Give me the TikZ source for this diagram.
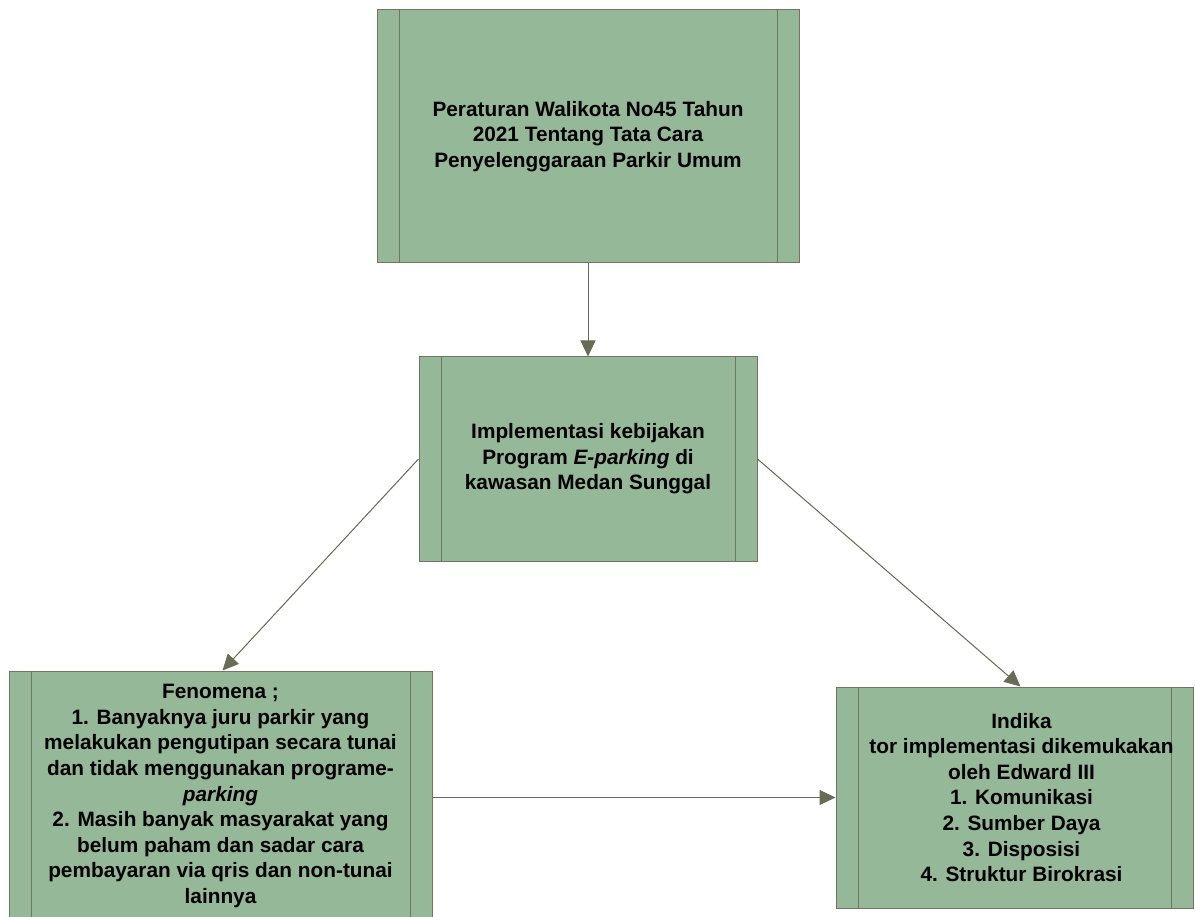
\documentclass[tikz,border=0pt]{standalone}
\usepackage{fontspec}
\setmainfont{Liberation Sans}
\usetikzlibrary{arrows.meta,calc}
\definecolor{boxfill}{RGB}{148,184,152}
\definecolor{boxline}{RGB}{112,116,96}
\definecolor{arrcol}{RGB}{104,108,84}
\tikzset{
  procbox/.style={draw=boxline, fill=boxfill, line width=1pt, inner sep=0pt,
    align=center, font=\bfseries\fontsize{20.8}{25.6}\selectfont,
    path picture={
      \draw[boxline, line width=1pt]
        ([xshift=22pt]path picture bounding box.north west) -- ([xshift=22pt]path picture bounding box.south west)
        ([xshift=-22pt]path picture bounding box.north east) -- ([xshift=-22pt]path picture bounding box.south east);
    }},
  arr/.style={draw=arrcol, line width=1pt, -{Triangle[length=16pt,width=15pt]}, fill=arrcol}
}
\begin{document}
\begin{tikzpicture}[x=1pt,y=-1pt]
\useasboundingbox (0,0) rectangle (1195,917);
\clip (0,0) rectangle (1195,917);
\node[procbox, minimum width=422pt, minimum height=253pt] (b1) at (588,136.5)
  {Peraturan Walikota No45 Tahun\\2021 Tentang Tata Cara\\ Penyelenggaraan Parkir Umum};
\node[procbox, minimum width=338pt, minimum height=204pt] (b2) at (588,459)
  {Implementasi kebijakan\\Program \textit{E-parking} di\\kawasan Medan Sunggal};
\node[procbox, minimum width=423pt, minimum height=250pt] (b3) at (220.5,796)
  {Fenomena ;\\1. Banyaknya juru parkir yang\\melakukan pengutipan secara tunai\\dan tidak menggunakan programe-\\\textit{parking}\\2. Masih banyak masyarakat yang\\belum paham dan sadar cara\\pembayaran via qris dan non-tunai\\lainnya};
\node[procbox, minimum width=357pt, minimum height=221pt] (b4) at (1014.5,797.5)
  {\hspace*{14pt}Indika\\\hspace*{14pt}tor implementasi dikemukakan\\\hspace*{14pt}oleh Edward III\\\hspace*{14pt}1. Komunikasi\\\hspace*{14pt}2. Sumber Daya\\\hspace*{14pt}3. Disposisi\\\hspace*{14pt}4. Struktur Birokrasi};
\draw[arr] (b1.south) -- (b2.north);
\draw[arr] (b2.west) -- ([xshift=2pt]b3.north);
\draw[arr] (b2.east) -- ([xshift=6pt]b4.north);
\draw[arr] (b3.east |- b4.west) -- (b4.west);
\end{tikzpicture}
\end{document}
